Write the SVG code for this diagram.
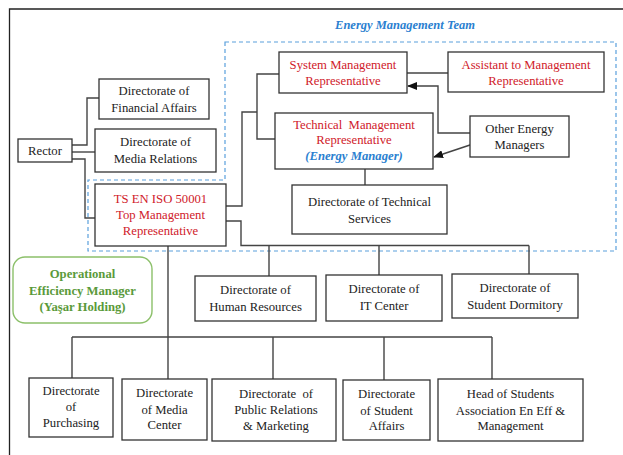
<svg xmlns="http://www.w3.org/2000/svg" width="623" height="455" viewBox="0 0 623 455" font-family="Liberation Serif, serif">
<defs>
<marker id="arr" markerWidth="10" markerHeight="8" refX="9" refY="4" orient="auto" markerUnits="userSpaceOnUse">
<path d="M0,0 L10,4 L0,8 Z" fill="#111"/>
</marker>
<style>
svg text{font-family:"Liberation Serif",serif !important;font-size:12.7px;text-anchor:middle;fill:#222}
.box{fill:#fff;stroke:#333;stroke-width:1.3}
svg text.red{fill:#d0202a}
svg text.blue{fill:#2a80d0;font-weight:bold;font-style:italic}
svg text.green{fill:#5a9a3a;font-weight:bold}
.con{fill:none;stroke:#444;stroke-width:1.4}
</style>
</defs>
<rect width="623" height="455" fill="#fff"/>
<path d="M9.5,455 V9 H623" fill="none" stroke="#222" stroke-width="1.3"/>
<path d="M225,42 H616 V251 H88 V180 H225 Z" fill="none" stroke="#5aa0dc" stroke-width="1.2" stroke-dasharray="4,3"/>
<text x="405" y="29" class="blue" style="font-size:12.5px">Energy Management Team</text>

<g id="connectors">
<path class="con" d="M72,145 H87 V98 H99"/>
<path class="con" d="M72,152 H95"/>
<path class="con" d="M72,159 H85 V218 H95"/>
<path class="con" d="M226,206 H242 V112 H257"/>
<path class="con" d="M279,74 H257 V139 H275"/>
<path class="con" d="M226,221 H241 V245.5 H529"/>
<path class="con" d="M269,245.5 V276 M379,245.5 V275 M529,245.5 V274"/>
<path class="con" d="M365,169 V185"/>
<path class="con" d="M407,73 H448"/>
<path class="con" d="M470,133 H438 V86 H408" marker-end="url(#arr)"/>
<path class="con" d="M473,144 L434,157" marker-end="url(#arr)"/>
<path class="con" d="M168,246 V379"/>
<path class="con" d="M72,337 H492 M72,337 V378 M273,337 V379 M384,337 V380 M492,337 V379"/>
</g>

<g id="rector"><rect class="box" x="18" y="139" width="54" height="23"/><text x="45" y="155">Rector</text></g>
<g id="financial"><rect class="box" x="99" y="79" width="110" height="40"/><text x="154" y="95">Directorate of</text><text x="154" y="112">Financial Affairs</text></g>
<g id="media-relations"><rect class="box" x="95" y="129" width="121" height="43"/><text x="155.5" y="146">Directorate of</text><text x="155.5" y="162.5">Media Relations</text></g>
<g id="top-management"><rect class="box" x="95" y="184" width="131" height="62"/><text class="red" x="160.5" y="203">TS EN ISO 50001</text><text class="red" x="160.5" y="219">Top Management</text><text class="red" x="160.5" y="235">Representative</text></g>
<g id="system-management"><rect class="box" x="279" y="52" width="128" height="41"/><text class="red" x="343" y="69">System Management</text><text class="red" x="343" y="85">Representative</text></g>
<g id="technical-management"><rect class="box" x="275" y="113" width="158" height="56"/><text class="red" x="354" y="129" xml:space="preserve">Technical  Management</text><text class="red" x="354" y="144">Representative</text><text class="blue" x="354" y="159.5">(Energy Manager)</text></g>
<g id="technical-services"><rect class="box" x="292" y="185" width="155" height="49"/><text x="369.5" y="206">Directorate of Technical</text><text x="369.5" y="222.5">Services</text></g>
<g id="assistant"><rect class="box" x="448" y="52" width="156" height="40"/><text class="red" x="526" y="69">Assistant to Management</text><text class="red" x="526" y="84.5">Representative</text></g>
<g id="other-energy"><rect class="box" x="470" y="116" width="99" height="41"/><text x="519.5" y="132.5">Other Energy</text><text x="519.5" y="148.5">Managers</text></g>
<g id="operational"><rect x="13" y="257" width="139" height="66" rx="12" fill="#fff" stroke="#8cc06a" stroke-width="1.4"/><text class="green" x="82.5" y="278">Operational</text><text class="green" x="82.5" y="294.5">Efficiency Manager</text><text class="green" x="82.5" y="311">(Yaşar Holding)</text></g>
<g id="human-resources"><rect class="box" x="195" y="276" width="121" height="45"/><text x="255.5" y="294">Directorate of</text><text x="255.5" y="310.5">Human Resources</text></g>
<g id="it-center"><rect class="box" x="326" y="275" width="116" height="46"/><text x="384" y="293">Directorate of</text><text x="384" y="309.5">IT Center</text></g>
<g id="dormitory"><rect class="box" x="452" y="274" width="126" height="44"/><text x="515" y="292">Directorate of</text><text x="515" y="308.5">Student Dormitory</text></g>
<g id="purchasing"><rect class="box" x="29" y="378" width="84" height="59"/><text x="71" y="395">Directorate</text><text x="71" y="411">of</text><text x="71" y="427">Purchasing</text></g>
<g id="media-center"><rect class="box" x="122" y="379" width="85" height="61"/><text x="164.5" y="397">Directorate</text><text x="164.5" y="413.5">of Media</text><text x="164.5" y="429">Center</text></g>
<g id="public-relations"><rect class="box" x="212" y="379" width="124" height="62"/><text x="276" y="398" xml:space="preserve">Directorate  of</text><text x="276" y="414">Public Relations</text><text x="276" y="430">&amp; Marketing</text></g>
<g id="student-affairs"><rect class="box" x="343" y="380" width="87" height="60"/><text x="386.5" y="398">Directorate</text><text x="386.5" y="414.5">of Student</text><text x="386.5" y="430">Affairs</text></g>
<g id="students-association"><rect class="box" x="438" y="379" width="145" height="62"/><text x="510.5" y="398">Head of Students</text><text x="510.5" y="414.5">Association En Eff &amp;</text><text x="510.5" y="430">Management</text></g>
</svg>
